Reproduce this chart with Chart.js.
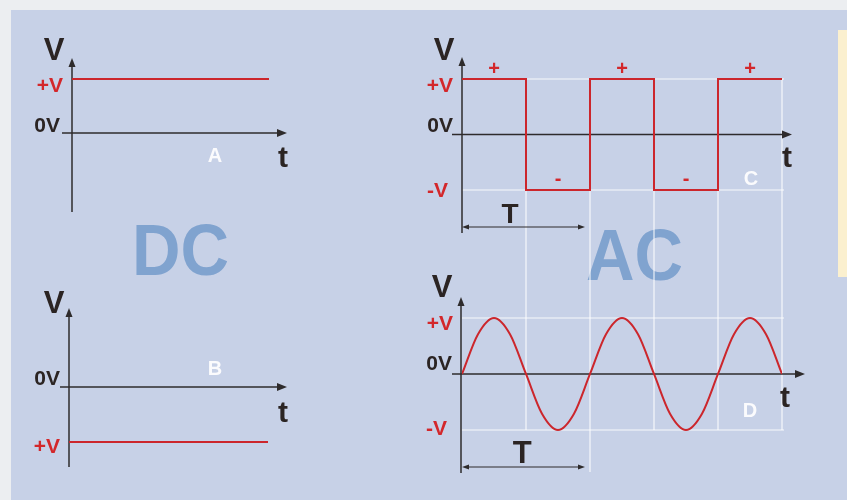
<!DOCTYPE html>
<html><head><meta charset="utf-8">
<script src="https://cdn.jsdelivr.net/npm/chart.js@4/dist/chart.umd.min.js"></script>
<style>
html,body{margin:0;padding:0;width:847px;height:500px;overflow:hidden;background:#eceef1;}
#panel{position:absolute;left:11px;top:10px;width:836px;height:490px;background:#c7d1e7;}
#note{position:absolute;left:838px;top:30px;width:9px;height:247px;background:#fbf0cf;}
.big{position:absolute;font:bold 73px "Liberation Sans",Arial,sans-serif;color:#80a3cf;line-height:73px;white-space:nowrap;transform:scaleX(0.92);transform-origin:0 0;}
.layer{position:absolute;left:0;top:0;width:847px;height:500px;}
canvas{position:absolute;left:0;top:0;}
</style></head><body>
<div id="panel"></div><div id="note"></div>
<div class="big" style="left:132px;top:213px;">DC</div>
<div class="big" style="left:586px;top:218px;">AC</div>
<div class="layer"><canvas id="cA" width="847" height="500"></canvas></div>
<div class="layer"><canvas id="cB" width="847" height="500"></canvas></div>
<div class="layer"><canvas id="cAC" width="847" height="500"></canvas></div>
<script>
// ---- data ----
const dcTime = [0, 1];
const seriesA = [1, 1];
const seriesB = [-1, -1];
const levelsA = [1, 0];
const labelsA = ['+V', '0V'];
const levelsB = [0, -1];
const labelsB = ['0V', '+V'];
const acLevels = [1, 0, -1];
const acLabels = ['+V', '0V', '-V'];
const squareTime = [0, 0.5, 1, 1.5, 2, 2.5];
const squareV = [1, -1, 1, -1, 1, 1];
const sineTime = [0, 0.125, 0.25, 0.375, 0.5, 0.625, 0.75, 0.875, 1, 1.125, 1.25, 1.375, 1.5, 1.625, 1.75, 1.875, 2, 2.125, 2.25, 2.375, 2.5];
const sineV = [0, 0.71, 1, 0.71, 0, -0.71, -1, -0.71, 0, 0.71, 1, 0.71, 0, -0.71, -1, -0.71, 0, 0.71, 1, 0.71, 0];
const gridTime = [0.5, 1, 1.5, 2, 2.5];
const signTime = [0.25, 0.75, 1.25, 1.75, 2.25];
const signText = ['+', '-', '+', '-', '+'];
const periodSpan = [0, 1];
const panelNames = ['A', 'B', 'C', 'D'];
const axisNames = ['V', 't', 'T'];

// ---- styles ----
const RED = '#cc262c', RED_TXT = '#d3272b', DARK = '#2b2423', AXIS = '#2e2b2c', WHITE = 'rgba(255,255,255,0.85)';
const FF = '"Liberation Sans", Arial, sans-serif';
const pts = (xs, ys) => xs.map((x, i) => ({x, y: ys[i]}));

function ln(ctx, x1, y1, x2, y2, color, w) {
  ctx.save(); ctx.strokeStyle = color; ctx.lineWidth = w; ctx.beginPath();
  ctx.moveTo(x1, y1); ctx.lineTo(x2, y2); ctx.stroke(); ctx.restore();
}
function head(ctx, x, y, dir, len, half, color) {
  ctx.save(); ctx.fillStyle = color; ctx.beginPath(); ctx.moveTo(x, y);
  if (dir === 'up') { ctx.lineTo(x - half, y + len); ctx.lineTo(x + half, y + len); }
  if (dir === 'right') { ctx.lineTo(x - len, y - half); ctx.lineTo(x - len, y + half); }
  if (dir === 'left') { ctx.lineTo(x + len, y - half); ctx.lineTo(x + len, y + half); }
  ctx.closePath(); ctx.fill(); ctx.restore();
}
function txt(ctx, s, x, y, size, color, align) {
  ctx.save(); ctx.font = 'bold ' + size + 'px ' + FF; ctx.fillStyle = color;
  ctx.textAlign = align || 'center'; ctx.textBaseline = 'alphabetic'; ctx.fillText(s, x, y); ctx.restore();
}
function yAxis(ctx, x, top, bottom) {
  ln(ctx, x, top + 6, x, bottom, AXIS, 1.5);
  head(ctx, x, top, 'up', 9, 3.5, AXIS);
}
function xAxis(ctx, y, left, right) {
  ln(ctx, left, y, right - 6, y, AXIS, 1.5);
  head(ctx, right, y, 'right', 10, 4, AXIS);
}
function periodArrow(ctx, y, x1, x2) {
  ln(ctx, x1 + 3, y, x2 - 3, y, AXIS, 1.2);
  head(ctx, x1, y, 'left', 7, 2.5, AXIS);
  head(ctx, x2, y, 'right', 7, 2.5, AXIS);
}

const baseLine = {borderColor: RED, borderWidth: 2, pointRadius: 0, fill: false, tension: 0};
const hidden = (min, max) => ({type: 'linear', min, max, bounds: 'data', display: false});
const commonOpts = {responsive: false, animation: false, events: [],
  plugins: {legend: {display: false}, tooltip: {enabled: false}}};

// ---- Chart A (DC) ----
new Chart(document.getElementById('cA'), {
  type: 'line',
  data: {datasets: [{...baseLine, data: pts(dcTime, seriesA)}]},
  options: {...commonOpts,
    layout: {padding: {left: 72, right: 578, top: 58, bottom: 288}},
    scales: {x: hidden(0, 1), y: hidden(-1.463, 1.389)}},
  plugins: [{id: 'dA',
    beforeDatasetsDraw(c) {
      const ctx = c.ctx, xs = c.scales.x, ys = c.scales.y, a = c.chartArea;
      yAxis(ctx, xs.getPixelForValue(0), a.top, a.bottom);
      xAxis(ctx, ys.getPixelForValue(0), a.left - 10, a.right + 18);
    },
    afterDatasetsDraw(c) {
      const ctx = c.ctx, xs = c.scales.x, ys = c.scales.y, x0 = xs.getPixelForValue(0);
      txt(ctx, axisNames[0], x0 - 18, 60, 31, DARK);
      txt(ctx, labelsA[0], x0 - 9, ys.getPixelForValue(levelsA[0]) + 13, 21, RED_TXT, 'right');
      txt(ctx, labelsA[1], x0 - 12, ys.getPixelForValue(levelsA[1]) - 1, 21, DARK, 'right');
      txt(ctx, axisNames[1], xs.getPixelForValue(1) + 14, ys.getPixelForValue(0) + 34, 30, DARK);
      txt(ctx, panelNames[0], 215, 162, 20, '#fbfbfd');
    }}]
});

// ---- Chart B (DC) ----
new Chart(document.getElementById('cB'), {
  type: 'line',
  data: {datasets: [{...baseLine, data: pts(dcTime, seriesB)}]},
  options: {...commonOpts,
    layout: {padding: {left: 69, right: 579, top: 308, bottom: 33}},
    scales: {x: hidden(0, 1), y: hidden(-1.4545, 1.436)}},
  plugins: [{id: 'dB',
    beforeDatasetsDraw(c) {
      const ctx = c.ctx, xs = c.scales.x, ys = c.scales.y, a = c.chartArea;
      yAxis(ctx, xs.getPixelForValue(0), a.top, a.bottom);
      xAxis(ctx, ys.getPixelForValue(0), a.left - 9, a.right + 19);
    },
    afterDatasetsDraw(c) {
      const ctx = c.ctx, xs = c.scales.x, ys = c.scales.y, x0 = xs.getPixelForValue(0);
      txt(ctx, axisNames[0], 54, 313, 31, DARK);
      txt(ctx, labelsB[0], x0 - 9, ys.getPixelForValue(levelsB[0]) - 2, 21, DARK, 'right');
      txt(ctx, labelsB[1], x0 - 9, ys.getPixelForValue(levelsB[1]) + 11, 21, RED_TXT, 'right');
      txt(ctx, axisNames[1], 283, ys.getPixelForValue(0) + 35, 30, DARK);
      txt(ctx, panelNames[1], 215, 375, 20, '#fbfbfd');
    }}]
});

// ---- Chart C + D (AC) ----
new Chart(document.getElementById('cAC'), {
  type: 'line',
  data: {datasets: [
    {...baseLine, data: pts(squareTime, squareV), stepped: 'before', xAxisID: 'x', yAxisID: 'yC'},
    {...baseLine, data: pts(sineTime, sineV), cubicInterpolationMode: 'monotone', xAxisID: 'x', yAxisID: 'yD'}
  ]},
  options: {...commonOpts,
    layout: {padding: {left: 462, right: 65, top: 57, bottom: 27}},
    scales: {x: hidden(0, 2.5), yC: hidden(-6.099, 1.396), yD: hidden(-1.768, 5.661)}},
  plugins: [{id: 'dAC',
    beforeDatasetsDraw(c) {
      const ctx = c.ctx, xs = c.scales.x, yC = c.scales.yC, yD = c.scales.yD, a = c.chartArea;
      const X = v => xs.getPixelForValue(v);
      gridTime.forEach(g => {
        const bottom = g === periodSpan[1] ? yD.getPixelForValue(-1) + 42 : yD.getPixelForValue(-1);
        ln(ctx, X(g), yC.getPixelForValue(1), X(g), bottom, WHITE, 1.2);
      });
      [yC.getPixelForValue(1), yC.getPixelForValue(-1), yD.getPixelForValue(1), yD.getPixelForValue(-1)]
        .forEach(y => ln(ctx, X(0), y, X(2.5) + 2, y, WHITE, 1.2));
      yAxis(ctx, X(0), a.top, yC.getPixelForValue(-1) + 43);
      xAxis(ctx, yC.getPixelForValue(0), X(0) - 10, X(2.5) + 10);
      periodArrow(ctx, yC.getPixelForValue(-1) + 37, X(periodSpan[0]), X(periodSpan[1]) - 5);
      yAxis(ctx, X(0) - 1, yD.getPixelForValue(1) - 21, a.bottom);
      xAxis(ctx, yD.getPixelForValue(0), X(0) - 10, X(2.5) + 23);
      periodArrow(ctx, yD.getPixelForValue(-1) + 37, X(periodSpan[0]), X(periodSpan[1]) - 5);
    },
    afterDatasetsDraw(c) {
      const ctx = c.ctx, xs = c.scales.x, yC = c.scales.yC, yD = c.scales.yD;
      const X = v => xs.getPixelForValue(v), x0 = X(0);
      txt(ctx, axisNames[0], x0 - 18, 60, 31, DARK);
      txt(ctx, acLabels[0], x0 - 9, yC.getPixelForValue(acLevels[0]) + 13, 21, RED_TXT, 'right');
      txt(ctx, acLabels[1], x0 - 9, yC.getPixelForValue(acLevels[1]) - 2, 21, DARK, 'right');
      txt(ctx, acLabels[2], x0 - 14, yC.getPixelForValue(acLevels[2]) + 7, 21, RED_TXT, 'right');
      signTime.forEach((t, i) => {
        const plus = signText[i] === '+';
        txt(ctx, signText[i], X(t), plus ? yC.getPixelForValue(1) - 4 : yC.getPixelForValue(-1) - 5, 20, RED_TXT);
      });
      txt(ctx, panelNames[2], X(2.25) + 1, 185, 20, '#fbfbfd');
      txt(ctx, axisNames[1], X(2.5) + 5, yC.getPixelForValue(0) + 33, 30, DARK);
      txt(ctx, axisNames[2], X(0.375), yC.getPixelForValue(-1) + 33, 28, DARK);
      txt(ctx, axisNames[0], x0 - 20, 297, 31, DARK);
      txt(ctx, acLabels[0], x0 - 9, yD.getPixelForValue(acLevels[0]) + 12, 21, RED_TXT, 'right');
      txt(ctx, acLabels[1], x0 - 10, yD.getPixelForValue(acLevels[1]) - 4, 21, DARK, 'right');
      txt(ctx, acLabels[2], x0 - 15, yD.getPixelForValue(acLevels[2]) + 5, 21, RED_TXT, 'right');
      txt(ctx, panelNames[3], X(2.25), 417, 20, '#fbfbfd');
      txt(ctx, axisNames[1], X(2.5) + 3, yD.getPixelForValue(0) + 33, 30, DARK);
      txt(ctx, axisNames[2], X(0.47), yD.getPixelForValue(-1) + 33, 31, DARK);
    }}]
});
</script>
</body></html>
